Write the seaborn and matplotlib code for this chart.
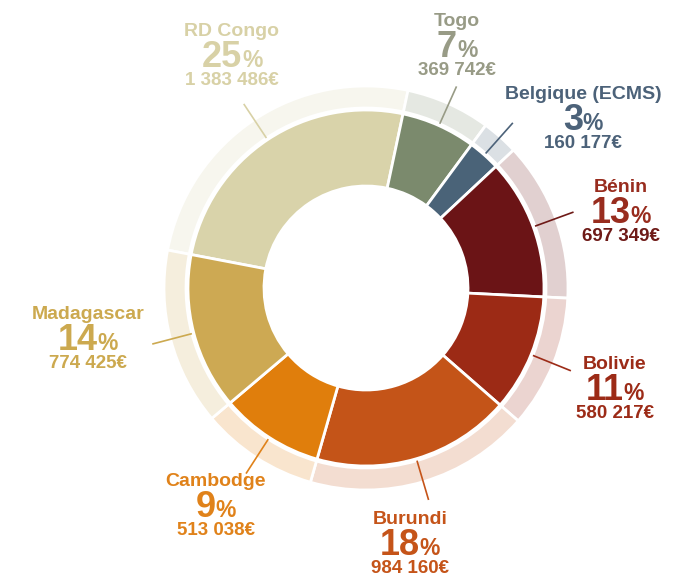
import numpy as np
import seaborn as sns
import matplotlib.pyplot as plt

# ---- data ----
countries = ["RD Congo", "Togo", "Belgique (ECMS)", "Bénin", "Bolivie",
             "Burundi", "Cambodge", "Madagascar"]
amounts = [1383486, 369742, 160177, 697349, 580217, 984160, 513038, 774425]
slice_colors = ["#D9D3AA", "#7B8A6D", "#4A6378", "#6B1416", "#9C2A15",
                "#C45418", "#E07E0C", "#CDA953"]
text_colors = ["#D8D1A6", "#989B86", "#4C6279", "#982C1E", "#9C2B17",
               "#C55419", "#E0821A", "#CCA94F"]
amount_colors = ["#D8D1A6", "#989B86", "#4C6279", "#6E1A17", "#9C2B17",
                 "#C55419", "#E0821A", "#CCA94F"]
# -------------

# label anchor (center x, baseline of percent line) in pixels from top-left
label_pos = [(232, 67), (457, 57), (583, 130), (621, 223), (615, 400),
             (410, 555), (216, 517), (88, 350)]

W, H = 700, 577
CX, CY = 366, H - 288

sns.set_theme(style="white")
plt.rcParams["font.family"] = ["Liberation Sans", "DejaVu Sans"]


def pale(c, a=0.2):
    r, g, b = plt.matplotlib.colors.to_rgb(c)
    return (1 - a * (1 - r), 1 - a * (1 - g), 1 - a * (1 - b))


fig = plt.figure(figsize=(W / 100, H / 100), dpi=100)
ax = fig.add_axes([0, 0, 1, 1])

total = sum(amounts)
start = 90 - 12 + 360 * amounts[0] / total

# outer pale ring
ax.pie(amounts, colors=[pale(c) for c in slice_colors], radius=202,
       center=(CX, CY), startangle=start, counterclock=False,
       wedgeprops=dict(width=22, edgecolor="white", linewidth=2))
# main donut
wedges, _ = ax.pie(amounts, colors=slice_colors, radius=178,
                   center=(CX, CY), startangle=start, counterclock=False,
                   wedgeprops=dict(width=76, edgecolor="white", linewidth=2))

ax.set_xlim(0, W)
ax.set_ylim(0, H)
ax.set_aspect("equal")
ax.axis("off")

# leader lines
for w, col in zip(wedges, amount_colors):
    mid = np.deg2rad((w.theta1 + w.theta2) / 2)
    r0, r1 = 180, 221
    ax.plot([CX + r0 * np.cos(mid), CX + r1 * np.cos(mid)],
            [CY + r0 * np.sin(mid), CY + r1 * np.sin(mid)],
            color=col, lw=1.2, solid_capstyle="butt", zorder=5)

fig.canvas.draw()
renderer = fig.canvas.get_renderer()

for name, amt, tc, ac, (lx, ly) in zip(countries, amounts, text_colors,
                                       amount_colors, label_pos):
    yb = H - ly
    pct = round(100 * amt / total)
    ax.text(lx, yb + 31, name, ha="center", va="baseline", fontsize=14,
            fontweight="bold", color=tc)
    num = ax.text(0, yb, str(pct), ha="left", va="baseline", fontsize=26,
                  fontweight="bold", color=tc)
    sign = ax.text(0, yb, "%", ha="left", va="baseline", fontsize=16.5,
                   fontweight="bold", color=tc)
    wn = num.get_window_extent(renderer).width
    ws = sign.get_window_extent(renderer).width
    gap = 0
    x0 = lx - (wn + ws + gap) / 2
    num.set_x(x0)
    sign.set_x(x0 + wn + gap)
    label = f"{amt:,}".replace(",", " ") + "€"
    ax.text(lx, yb - 18, label, ha="center", va="baseline", fontsize=13.5,
            fontweight="bold", color=ac)

fig.savefig("out.png", dpi=100)
